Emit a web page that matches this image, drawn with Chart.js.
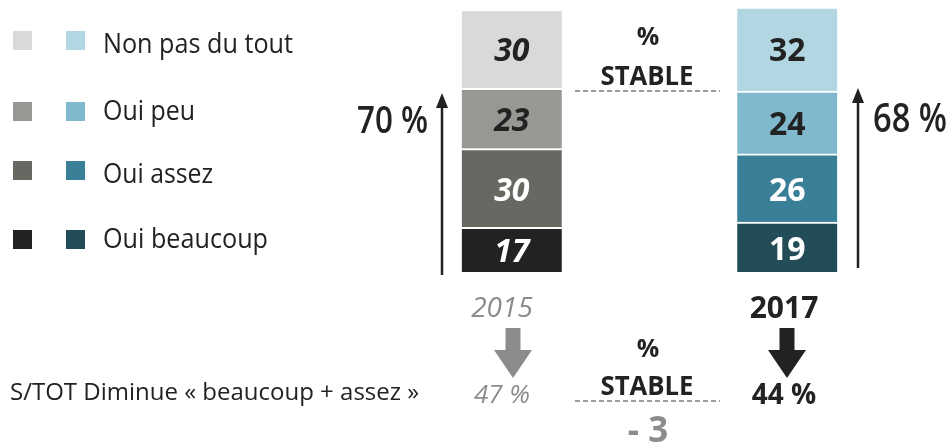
<!DOCTYPE html>
<html>
<head>
<meta charset="utf-8">
<script src="https://cdn.jsdelivr.net/npm/chart.js@4"></script>
<style>
  html, body { margin: 0; padding: 0; background: #fff; }
  #wrap { position: relative; width: 952px; height: 443px; }
</style>
</head>
<body>
<div id="wrap"><canvas id="chart" width="952" height="443"></canvas></div>
<script>
// years and answers (stacked from bottom to top)
const years = ['2015', '2017'];
const answers = ['Oui beaucoup', 'Oui assez', 'Oui peu', 'Non pas du tout'];
const beaucoup = [17, 19];
const assez = [30, 26];
const peu = [23, 24];
const nonPasDuTout = [30, 32];

// colours: first entry for 2015 (greys), second for 2017 (blues)
const colors = [
    ['#222222', '#234c59'],
    ['#666862', '#3a7f98'],
    ['#979893', '#80b9cd'],
    ['#d9d9d9', '#b3d7e2']
];
const labelColors = [['#fff', '#fff'], ['#fff', '#fff'], ['#222', '#222'], ['#222', '#222']];

const FONT = '"Open Sans", "Noto Sans", sans-serif';

function text(ctx, str, x, y, font, color, align, maxW) {
    ctx.font = font;
    ctx.fillStyle = color;
    ctx.textAlign = align || 'left';
    ctx.textBaseline = 'alphabetic';
    if (maxW) ctx.fillText(str, x, y, maxW); else ctx.fillText(str, x, y);
}

function upArrow(ctx, x, yBottom, yTip) {
    ctx.save();
    ctx.strokeStyle = '#222';
    ctx.fillStyle = '#222';
    ctx.lineWidth = 2.5;
    ctx.beginPath();
    ctx.moveTo(x, yBottom);
    ctx.lineTo(x, yTip + 12);
    ctx.stroke();
    ctx.beginPath();
    ctx.moveTo(x, yTip);
    ctx.lineTo(x - 6, yTip + 15);
    ctx.lineTo(x + 6, yTip + 15);
    ctx.closePath();
    ctx.fill();
    ctx.restore();
}

function blockArrow(ctx, x, yTop, yTip, color) {
    ctx.save();
    ctx.fillStyle = color;
    ctx.beginPath();
    ctx.moveTo(x - 7.5, yTop);
    ctx.lineTo(x + 7.5, yTop);
    ctx.lineTo(x + 7.5, yTop + 22);
    ctx.lineTo(x + 19, yTop + 22);
    ctx.lineTo(x, yTip);
    ctx.lineTo(x - 19, yTop + 22);
    ctx.lineTo(x - 7.5, yTop + 22);
    ctx.closePath();
    ctx.fill();
    ctx.restore();
}

function dashed(ctx, x1, x2, y) {
    ctx.save();
    ctx.strokeStyle = '#9a9a9a';
    ctx.lineWidth = 2;
    ctx.setLineDash([5, 3]);
    ctx.beginPath();
    ctx.moveTo(x1, y);
    ctx.lineTo(x2, y);
    ctx.stroke();
    ctx.restore();
}

const segmentLabels = {
    id: 'segmentLabels',
    afterDatasetsDraw(chart) {
        const ctx = chart.ctx;
        chart.data.datasets.forEach((ds, i) => {
            chart.getDatasetMeta(i).data.forEach((bar, j) => {
                const cy = (bar.y + bar.base) / 2 + 1;
                const font = j === 0 ? 'italic bold 32px ' + FONT : 'bold 32px ' + FONT;
                text(ctx, String(ds.data[j]), bar.x, cy + 11.5, font, labelColors[i][j], 'center');
            });
        });
    }
};

const annotations = {
    id: 'annotations',
    afterDraw(chart) {
        const ctx = chart.ctx;
        const dark = '#222';
        const grey = '#8c8c8c';

        // legend: two swatches per answer
        const rows = [
            { c: 3, sy: 31, base: 53 },
            { c: 2, sy: 102, base: 120 },
            { c: 1, sy: 161, base: 183 },
            { c: 0, sy: 230, base: 248 }
        ];
        const legendW = [190, 92, 110, 165];
        rows.forEach((r, k) => {
            ctx.fillStyle = colors[r.c][0];
            ctx.fillRect(13, r.sy, 19, 19);
            ctx.fillStyle = colors[r.c][1];
            ctx.fillRect(66, r.sy, 19, 19);
            text(ctx, answers[r.c], 103, r.base, '27px ' + FONT, dark, 'left', legendW[k]);
        });

        // totals beside the bars
        text(ctx, '70 %', 428, 133, '600 37px ' + FONT, dark, 'right', 71);
        upArrow(ctx, 442, 275, 93);
        text(ctx, '68 %', 873, 132, '600 40px ' + FONT, dark, 'left', 74);
        upArrow(ctx, 858, 268, 88);

        // top "% STABLE"
        text(ctx, '%', 648, 45, 'bold 25px ' + FONT, dark, 'center');
        text(ctx, 'STABLE', 647, 85, 'bold 27px ' + FONT, dark, 'center', 93);
        dashed(ctx, 575, 720, 91);

        // year labels
        text(ctx, years[0], 502, 317, 'italic 28px ' + FONT, grey, 'center', 67);
        text(ctx, years[1], 784, 318, 'bold 30px ' + FONT, dark, 'center', 72);
        blockArrow(ctx, 513, 328, 378, grey);
        blockArrow(ctx, 787, 328, 378, dark);

        // sub-total row
        text(ctx, 'S/TOT Diminue « beaucoup + assez »', 10, 400, '24px ' + FONT, dark, 'left', 418);
        text(ctx, '47 %', 502, 403, 'italic 26px ' + FONT, grey, 'center', 61);
        text(ctx, '44 %', 784, 404, 'bold 28px ' + FONT, dark, 'center', 72);
        text(ctx, '%', 648, 357, 'bold 25px ' + FONT, dark, 'center');
        text(ctx, 'STABLE', 647, 395, 'bold 27px ' + FONT, dark, 'center', 93);
        dashed(ctx, 575, 720, 401);
        text(ctx, '- 3', 648, 442, 'bold 35px ' + FONT, grey, 'center', 41);
    }
};

const series = [beaucoup, assez, peu, nonPasDuTout];

new Chart(document.getElementById('chart'), {
    type: 'bar',
    data: {
        labels: years,
        datasets: series.map((values, i) => ({
            label: answers[i],
            data: values,
            backgroundColor: colors[i],
            borderColor: '#ffffff',
            borderWidth: { top: 2, bottom: 0, left: 0, right: 0 },
            borderSkipped: false,
            barThickness: 100
        }))
    },
    options: {
        responsive: false,
        animation: false,
        layout: { padding: { left: 374, right: 27, top: 7, bottom: 171 } },
        scales: {
            x: { stacked: true, display: false },
            y: { stacked: true, display: false, min: 0, max: 101 }
        },
        plugins: {
            legend: { display: false },
            tooltip: { enabled: false }
        }
    },
    plugins: [segmentLabels, annotations]
});
</script>
</body>
</html>
